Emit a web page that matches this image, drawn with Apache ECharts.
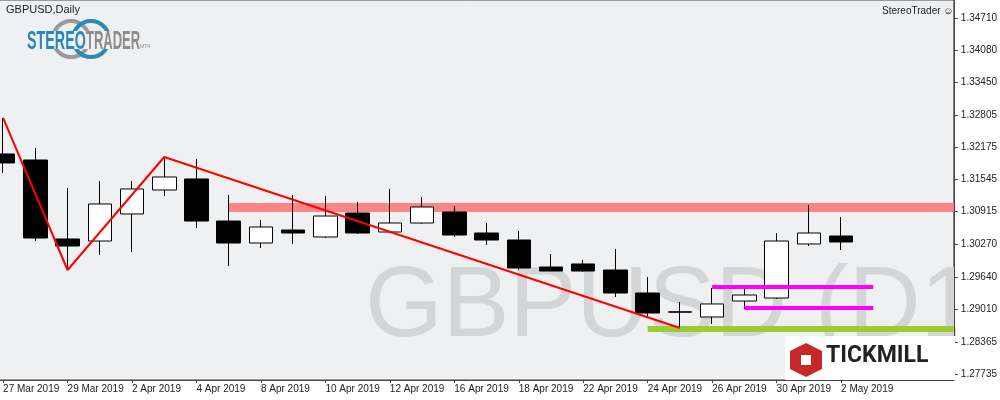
<!DOCTYPE html>
<html><head><meta charset="utf-8">
<script src="https://cdn.jsdelivr.net/npm/echarts@6/dist/echarts.min.js"></script>
<style>html,body{margin:0;padding:0;background:#fff;overflow:hidden}#wrap{width:1000px;height:400px;overflow:hidden;position:relative}#c{width:1013px;height:400px;position:absolute;left:-13px;top:0}</style>
</head><body><div id="wrap"><div id="c"></div></div>
<script>
const dates=['27 Mar 2019','28 Mar 2019','29 Mar 2019','1 Apr 2019','2 Apr 2019','3 Apr 2019','4 Apr 2019','5 Apr 2019','8 Apr 2019','9 Apr 2019','10 Apr 2019','11 Apr 2019','12 Apr 2019','15 Apr 2019','16 Apr 2019','17 Apr 2019','18 Apr 2019','19 Apr 2019','22 Apr 2019','23 Apr 2019','24 Apr 2019','25 Apr 2019','26 Apr 2019','29 Apr 2019','30 Apr 2019','1 May 2019','2 May 2019','3 May 2019','6 May 2019','7 May 2019'];
const lastLabelIndex=26;
// [open, close, low, high]
const ohlc=[
[1.32047,1.31871,1.31675,1.32753],
[1.31929,1.30400,1.30341,1.32164],
[1.30381,1.30243,1.29773,1.31380],
[1.30341,1.31067,1.30067,1.31517],
[1.30871,1.31361,1.30126,1.31517],
[1.31341,1.31596,1.31223,1.31988],
[1.31557,1.30733,1.30596,1.31949],
[1.30733,1.30302,1.29851,1.31243],
[1.30302,1.30616,1.30204,1.30753],
[1.30557,1.30498,1.30283,1.31243],
[1.30420,1.30831,1.30400,1.31223],
[1.30890,1.30498,1.30480,1.31106],
[1.30518,1.30694,1.30500,1.31361],
[1.30694,1.31008,1.30680,1.31204],
[1.30910,1.30459,1.30420,1.31027],
[1.30498,1.30361,1.30263,1.30694],
[1.30361,1.29812,1.29773,1.30537],
[1.29832,1.29753,1.29753,1.30087],
[1.29891,1.29753,1.29733,1.29969],
[1.29773,1.29322,1.29244,1.30185],
[1.29322,1.28930,1.28852,1.29636],
[1.28945,1.28955,1.28636,1.29146],
[1.28852,1.29107,1.28715,1.29420],
[1.29165,1.29283,1.29009,1.29459],
[1.29224,1.30341,1.29204,1.30498],
[1.30283,1.30498,1.30244,1.31047],
[1.30439,1.30322,1.30165,1.30812]
];
const zigzag=[1.32753,null,1.29773,null,null,1.31988,null,null,null,null,null,null,null,null,null,null,null,null,null,null,null,1.28636];
const yTicks=[1.27735,1.28365,1.29010,1.29640,1.30270,1.30915,1.31545,1.32175,1.32805,1.33450,1.34080,1.34710];
const resistanceBand=[1.30909,1.31085];
const supportBand=[1.28558,1.28675];
const magentaUpper=1.29440, magentaLower=1.29028;

const S=13; // page-to-chart x shift
const chart=echarts.init(document.getElementById('c'));
chart.setOption({
 animation:false,
 backgroundColor:'#fff',
 grid:{left:0,right:45,top:0,bottom:20,show:true,backgroundColor:'#eff0f2',borderColor:'#444',borderWidth:1},
 xAxis:{type:'category',data:dates,boundaryGap:true,z:5,
  axisLine:{lineStyle:{color:'#444'}},axisTick:{show:true,alignWithLabel:true,interval:(i)=>i%2===0&&i<=lastLabelIndex,length:3,lineStyle:{color:'#444'}},
  axisLabel:{interval:1,align:'left',fontSize:10,color:'#222',margin:4,fontFamily:'Liberation Sans',formatter:(v,i)=>i<=lastLabelIndex?v:''},splitLine:{show:false}},
 yAxis:{type:'value',position:'right',min:1.27617,max:1.35065,z:5,
  axisLine:{show:true,lineStyle:{color:'#444'}},axisTick:{show:true,customValues:yTicks,length:4,lineStyle:{color:'#444'}},
  axisLabel:{customValues:yTicks,fontSize:10,color:'#222',margin:7,fontFamily:'Liberation Sans',formatter:v=>v.toFixed(5)},splitLine:{show:false}},
 graphic:[
  {type:'text',left:365+S,top:258,z:1,style:{text:'GBPUSD (D1)',font:'100px "Liberation Sans", sans-serif',fill:'#d4d5d6'}},
  {type:'rect',shape:{x:956+S,y:0,width:44,height:400},style:{fill:'#fff'},z:1},
  {type:'rect',shape:{x:0,y:381,width:1013,height:19},style:{fill:'#fff'},z:1},
  {type:'rect',shape:{x:785+S,y:336,width:170,height:44},style:{fill:'#fff'},z:10},
  {type:'polygon',shape:{points:[[806+S,343],[822+S,351],[822+S,369],[806+S,377],[790+S,369],[790+S,351]]},style:{fill:'#c62828'},z:11},
  {type:'rect',shape:{x:801+S,y:355,width:10,height:10},style:{fill:'#fff'},z:12},
  {type:'text',left:826+S,top:345,z:11,style:{text:'TICKMILL',font:'bold 23px "Roboto", sans-serif',fill:'#222'}},
  {type:'text',left:6+S,top:4,z:10,style:{text:'GBPUSD,Daily',font:'11px "Liberation Sans"',fill:'#222'}},
  {type:'text',left:882+S,top:6,z:10,style:{text:'StereoTrader ☺',font:'10px "Liberation Sans"',fill:'#222'}},
  {type:'circle',shape:{cx:71+S,cy:39,r:18},style:{fill:'none',stroke:'#9a9a9a',lineWidth:4},z:9},
  {type:'circle',shape:{cx:91+S,cy:39,r:18},style:{fill:'none',stroke:'#2a8ab8',lineWidth:4},z:9},
  {type:'rect',shape:{x:25+S,y:31,width:125,height:18},style:{fill:'#eff0f2'},z:9},
  {type:'text',x:27+S,y:29,scaleX:0.55,z:10,style:{text:'STEREO',font:'bold 26px "Liberation Sans", sans-serif',fill:'#2a88b6'}},
  {type:'text',x:86+S,y:29,scaleX:0.5,z:10,style:{text:'TRADER',font:'bold 26px "Liberation Sans", sans-serif',fill:'#8c8c8c'}},
  {type:'text',left:140+S,top:44,z:10,style:{text:'MT4',font:'5px sans-serif',fill:'#888'}}
 ],
 series:[
  {type:'candlestick',data:ohlc,barWidth:24,z:4,
   itemStyle:{color:'#fff',color0:'#000',borderColor:'#000',borderColor0:'#000',borderWidth:1},
   markArea:{silent:true,data:[
    [{xAxis:'5 Apr 2019',yAxis:resistanceBand[0],itemStyle:{color:'#fa8584'}},{xAxis:Infinity,yAxis:resistanceBand[1]}],
    [{xAxis:'24 Apr 2019',yAxis:supportBand[0],itemStyle:{color:'#9acd32'}},{xAxis:Infinity,yAxis:supportBand[1]}]
   ]}},
  {type:'line',data:zigzag,connectNulls:true,symbol:'none',z:5,lineStyle:{color:'#ff0000',width:2}},
  {type:'line',data:[],z:3,markLine:{silent:true,symbol:'none',label:{show:false},lineStyle:{color:'#ff00ff',width:4,type:'solid'},data:[
    [{coord:['26 Apr 2019',magentaUpper]},{coord:['3 May 2019',magentaUpper]}],
    [{coord:['29 Apr 2019',magentaLower]},{coord:['3 May 2019',magentaLower]}]
  ]}}
 ]
});
</script></body></html>
